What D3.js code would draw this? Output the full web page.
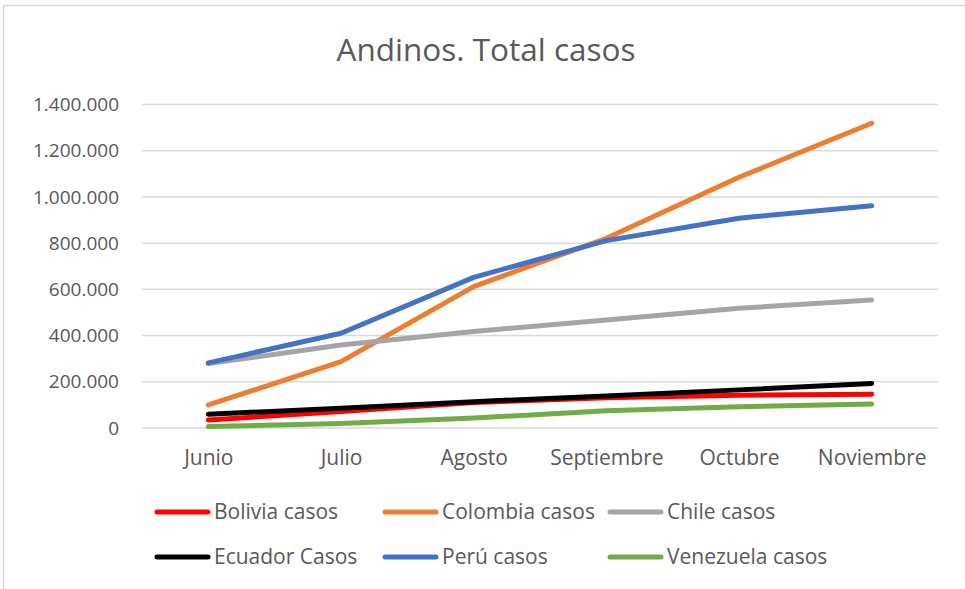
<!DOCTYPE html>
<html><head><meta charset="utf-8">
<script src="https://cdn.jsdelivr.net/npm/d3@7"></script>
<style>body{margin:0;background:#fff}svg{display:block}</style>
</head><body>
<script>
const categories = ["Junio","Julio","Agosto","Septiembre","Octubre","Noviembre"];
const bolivia   = [35000, 71000, 110000, 131000, 142000, 146000];
const colombia  = [100000, 287000, 612000, 821000, 1085000, 1319000];
const chile     = [279000, 359000, 418000, 467000, 518000, 554000];
const ecuador   = [60000, 85000, 114000, 139000, 165000, 193000];
const peru      = [282000, 410000, 652000, 811000, 908000, 962000];
const venezuela = [6000, 20000, 43000, 75000, 92000, 104000];
const yTicks = [0,200000,400000,600000,800000,1000000,1200000,1400000];
const seriesNames = ["Bolivia casos","Colombia casos","Chile casos","Ecuador Casos","Perú casos","Venezuela casos"];
const seriesColors = ["#ff0000","#ed7d31","#a5a5a5","#000000","#4472c4","#70ad47"];
const seriesValues = [bolivia, colombia, chile, ecuador, peru, venezuela];

const W = 965, H = 589;
const svg = d3.select("body").append("svg").attr("width", W).attr("height", H);
const font = "'Open Sans', sans-serif";

svg.append("rect").attr("x",3.5).attr("y",5.5).attr("width",W).attr("height",H)
  .attr("fill","#fff").attr("stroke","#d9d9d9").attr("stroke-width",1.5);

svg.append("text").attr("x", 486).attr("y", 61).attr("text-anchor","middle")
  .attr("font-family", font).attr("font-size", 31.5).attr("fill","#595959")
  .text("Andinos. Total casos");

const x = d3.scalePoint().domain(categories).range([142, 938]).padding(0.5);
const y = d3.scaleLinear().domain([0, 1400000]).range([428, 104.5]);
const fmt = v => d3.format(",")(v).replace(/,/g, ".");

const grid = svg.append("g");
grid.selectAll("line").data(yTicks).enter().append("line")
  .attr("x1", 142).attr("x2", 938)
  .attr("y1", d => y(d)).attr("y2", d => y(d))
  .attr("stroke", "#d9d9d9").attr("stroke-width", 1.5);

const yAxis = svg.append("g").attr("transform","translate(119,0)")
  .call(d3.axisLeft(y).tickValues(yTicks).tickFormat(fmt).tickSize(0).tickPadding(0));
yAxis.select(".domain").remove();
yAxis.selectAll("text").attr("font-family", font).attr("font-size", 19).attr("fill","#595959");

const xAxis = svg.append("g").attr("transform","translate(0,450)")
  .call(d3.axisBottom(x).tickSize(0).tickPadding(0));
xAxis.select(".domain").remove();
xAxis.selectAll("text").attr("font-family", font).attr("font-size", 21).attr("fill","#595959");

const line = d3.line().x((d,i) => x(categories[i])).y(d => y(d));
seriesValues.forEach((vals, k) => {
  svg.append("path").datum(vals).attr("d", line)
    .attr("fill","none").attr("stroke", seriesColors[k]).attr("stroke-width", 5)
    .attr("stroke-linecap","round").attr("stroke-linejoin","round");
});

const legX = [155, 383, 608], legY = [512, 557];
seriesNames.forEach((name, k) => {
  const lx = legX[k % 3], ly = legY[Math.floor(k / 3)];
  svg.append("line").attr("x1", lx+2).attr("x2", lx+53).attr("y1", ly).attr("y2", ly)
    .attr("stroke", seriesColors[k]).attr("stroke-width", 5).attr("stroke-linecap","round");
  svg.append("text").attr("x", lx + 59).attr("y", ly).attr("dy","0.35em")
    .attr("font-family", font).attr("font-size", 21).attr("fill","#595959").text(name);
});
</script>
</body></html>
